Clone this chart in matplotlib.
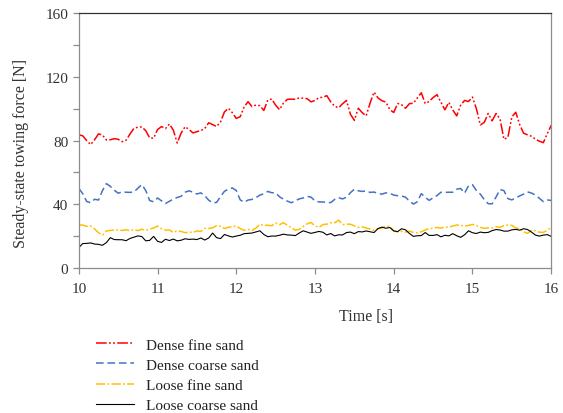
import matplotlib
matplotlib.use("Agg")
import matplotlib.pyplot as plt
from matplotlib.ticker import MultipleLocator
import numpy as np

plt.rcParams['font.family'] = ['Liberation Serif', 'DejaVu Serif']

# sampling times [s], one reading every 0.05 s
time_s = np.linspace(10.0, 16.0, 121)

dense_fine = [
    83.6, 83.0, 80.0, 77.5, 80.5, 84.2, 83.5, 80.4, 80.5, 81.2,
    80.8, 79.3, 80.2, 84.1, 87.7, 88.4, 88.6, 86.2, 81.7, 81.5,
    86.9, 88.8, 87.5, 90.4, 86.6, 78.5, 84.8, 88.7, 87.0, 84.8,
    85.6, 86.3, 87.6, 91.2, 90.0, 88.8, 91.7, 98.0, 100.3, 97.5,
    93.9, 95.0, 101.2, 104.4, 101.3, 102.3, 101.9, 98.9, 105.4, 106.1,
    102.2, 99.4, 103.6, 105.9, 106.0, 105.9, 106.8, 106.6, 106.3, 104.3,
    105.2, 106.9, 107.2, 108.2, 104.3, 101.5, 100.6, 103.1, 105.2, 96.5,
    92.7, 100.3, 97.5, 95.5, 103.6, 110.4, 106.8, 105.0, 104.2, 99.5,
    97.6, 103.3, 102.5, 100.3, 103.2, 103.4, 106.8, 110.0, 103.3, 104.5,
    107.0, 108.8, 104.0, 99.3, 104.0, 99.2, 95.5, 102.2, 105.2, 104.5,
    107.3, 100.0, 89.8, 91.4, 97.0, 92.4, 97.0, 93.7, 80.8, 82.0,
    94.8, 97.8, 90.0, 84.6, 83.6, 82.7, 80.9, 79.6, 78.7, 84.3,
    89.5,
]

dense_coarse = [
    50.0, 46.7, 41.8, 41.0, 43.2, 42.7, 48.6, 53.0, 51.3, 48.9,
    47.0, 47.8, 47.6, 47.5, 47.8, 50.1, 52.4, 48.7, 42.4, 41.6,
    44.0, 42.2, 40.5, 41.9, 43.3, 44.3, 45.1, 47.6, 48.5, 47.6,
    46.5, 47.2, 45.4, 42.6, 40.9, 41.2, 44.9, 48.2, 49.5, 50.3,
    48.7, 42.8, 41.3, 42.7, 43.1, 44.2, 45.8, 46.7, 48.1, 47.3,
    47.2, 44.7, 43.2, 42.0, 41.0, 42.3, 43.4, 44.0, 45.0, 44.5,
    42.2, 41.5, 41.5, 41.2, 41.1, 43.1, 44.2, 43.4, 44.5, 47.3,
    49.5, 48.5, 48.1, 48.4, 47.5, 47.7, 46.8, 46.4, 47.2, 47.0,
    45.8, 45.4, 45.2, 44.5, 42.0, 40.2, 41.6, 46.7, 44.4, 42.5,
    44.1, 45.5, 47.6, 47.5, 47.6, 47.6, 49.5, 50.0, 47.0, 51.7,
    52.3, 48.7, 46.4, 43.0, 40.4, 40.3, 44.6, 49.3, 48.6, 43.6,
    42.8, 44.0, 45.3, 46.4, 47.8, 47.1, 45.8, 43.8, 41.7, 42.7,
    42.5,
]

loose_fine = [
    27.0, 27.0, 26.2, 26.4, 24.6, 22.2, 20.7, 23.3, 23.6, 23.9,
    24.0, 23.6, 24.1, 23.4, 24.2, 23.5, 24.4, 23.7, 24.5, 25.1,
    26.4, 24.7, 23.8, 23.9, 22.4, 23.4, 23.0, 22.2, 22.6, 22.4,
    23.3, 23.0, 25.0, 24.9, 25.3, 26.6, 26.3, 24.8, 25.6, 25.9,
    26.5, 24.8, 23.7, 24.3, 23.6, 25.1, 27.6, 26.8, 26.9, 26.6,
    28.3, 27.2, 28.5, 26.8, 25.4, 23.8, 24.3, 26.1, 27.8, 28.6,
    26.5, 25.5, 27.3, 27.6, 28.4, 28.4, 30.1, 27.3, 27.6, 27.5,
    26.5, 25.5, 25.9, 25.1, 24.5, 23.6, 24.7, 25.2, 26.3, 26.2,
    23.4, 22.7, 23.1, 22.6, 23.2, 22.4, 22.1, 22.8, 23.9, 24.8,
    24.9, 25.5, 25.1, 25.8, 25.7, 26.4, 27.0, 26.9, 26.3, 26.8,
    27.4, 26.7, 25.5, 25.0, 25.2, 25.2, 26.0, 25.5, 26.7, 27.0,
    26.8, 25.2, 24.8, 22.7, 21.8, 23.8, 23.5, 22.5, 22.4, 23.6,
    25.8,
]

loose_coarse = [
    12.9, 15.4, 15.5, 15.8, 15.1, 14.9, 14.3, 16.0, 19.1, 17.9,
    17.8, 17.8, 17.2, 18.6, 19.4, 20.2, 19.8, 17.1, 17.4, 19.9,
    16.8, 16.1, 18.1, 17.3, 18.2, 17.1, 17.5, 18.4, 18.0, 18.2,
    17.9, 18.9, 17.6, 18.9, 22.0, 19.1, 18.5, 21.1, 20.2, 19.5,
    20.1, 20.6, 21.6, 21.8, 22.0, 22.7, 23.4, 21.1, 19.7, 20.1,
    20.1, 20.6, 21.3, 20.8, 20.7, 20.4, 22.0, 23.4, 22.6, 21.8,
    22.4, 23.0, 22.5, 20.8, 21.7, 20.2, 20.9, 20.8, 22.3, 22.6,
    21.6, 22.9, 22.7, 23.3, 22.8, 22.3, 24.8, 25.7, 25.0, 25.5,
    23.3, 22.9, 24.7, 24.0, 21.7, 19.9, 20.3, 20.4, 22.3, 20.5,
    20.5, 21.0, 19.6, 20.6, 20.2, 21.6, 20.3, 19.3, 20.9, 23.4,
    22.2, 21.7, 22.6, 22.2, 22.4, 23.5, 24.2, 23.9, 23.2, 23.2,
    24.0, 24.3, 23.8, 24.7, 24.2, 22.6, 20.7, 20.1, 20.7, 21.0,
    19.9,
]

labels = ['Dense fine sand', 'Dense coarse sand', 'Loose fine sand', 'Loose coarse sand']

fig = plt.figure(figsize=(5.63, 4.14), dpi=100)
ax = fig.add_axes([0.140, 0.350, 0.839, 0.616])

ax.plot(time_s, dense_fine, color='#ff0000', lw=1.1, dashes=(7, 1.5, 1.2, 1.5, 1.2, 1.5), label=labels[0])
ax.plot(time_s, dense_coarse, color='#4472c4', lw=1.1, dashes=(5, 2.5), label=labels[1])
ax.plot(time_s, loose_fine, color='#ffc000', lw=1.1, dashes=(6, 1.5, 1.2, 1.5), label=labels[2])
ax.plot(time_s, loose_coarse, color='black', lw=0.8, label=labels[3])

ax.set_xlim(10, 16)
ax.set_ylim(0, 160)
ax.xaxis.set_major_locator(MultipleLocator(1))
ax.yaxis.set_major_locator(MultipleLocator(40))
ax.yaxis.set_minor_locator(MultipleLocator(20))

for side in ['left', 'bottom', 'right']:
    ax.spines[side].set_color('#8c8c8c')
ax.spines['top'].set_color('#333333')
for sp in ax.spines.values():
    sp.set_linewidth(0.9)

ax.tick_params(axis='both', which='both', direction='out', length=4, width=0.9,
               color='#8c8c8c', labelsize=11, labelcolor='#333333')
ax.tick_params(axis='x', pad=6)

ax.set_xlabel('Time [s]', fontsize=11.5, color='#333333')
ax.xaxis.set_label_coords(0.608, -0.155)
ax.set_ylabel('Steady-state towing force [N]', fontsize=11.5, color='#333333')
ax.yaxis.set_label_coords(-0.105, 0.455)

fig.legend(loc='upper left', bbox_to_anchor=(0.152, 0.207), frameon=False,
           fontsize=11, handlelength=2.5, handletextpad=0.75, labelspacing=0.42,
           borderpad=0.2, labelcolor='#222222')

fig.savefig('out.png', dpi=100)
